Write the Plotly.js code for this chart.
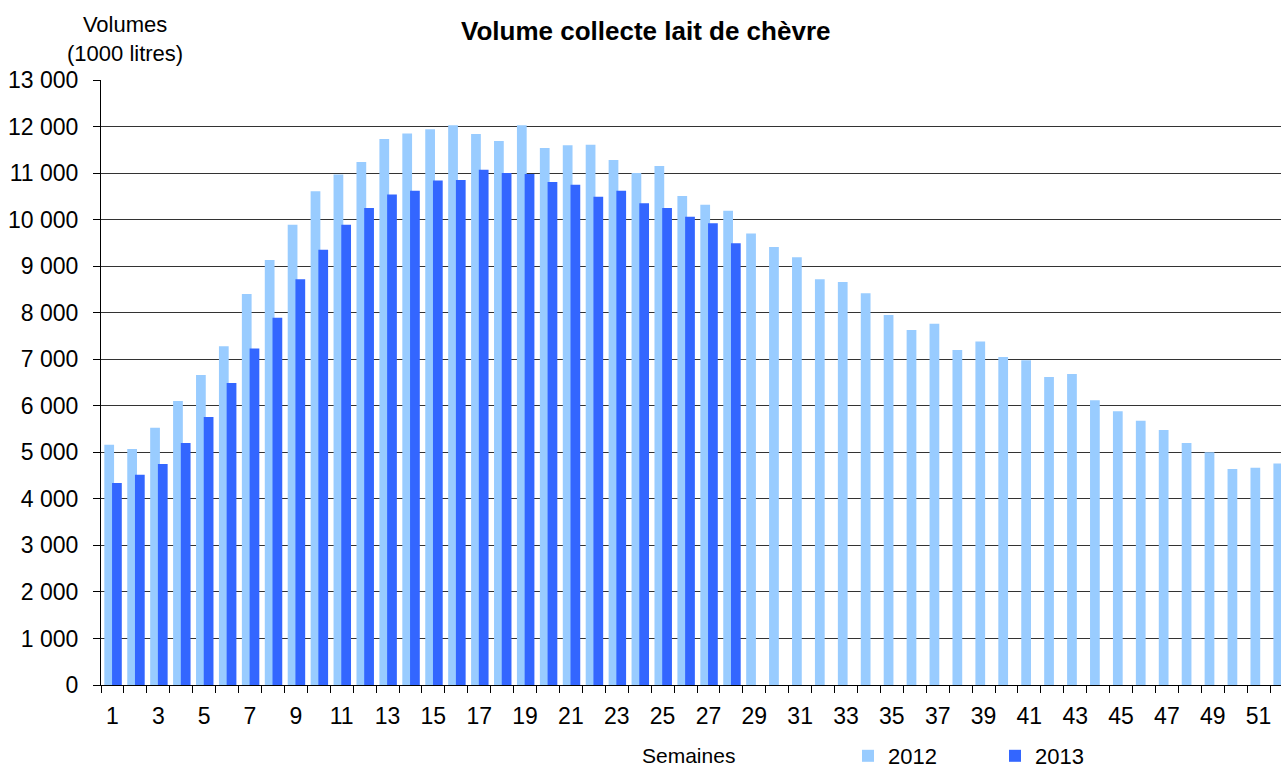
<!DOCTYPE html>
<html>
<head>
<meta charset="utf-8">
<script src="https://cdn.plot.ly/plotly-3.0.1.min.js"></script>
<style>
html, body { margin: 0; padding: 0; overflow: hidden; background: #fff; }
#chart { width: 1300px; height: 769px; }
</style>
</head>
<body>
<div id="chart"></div>
<script>
const weeks = [1,2,3,4,5,6,7,8,9,10,11,12,13,14,15,16,17,18,19,20,21,22,23,24,25,26,
               27,28,29,30,31,32,33,34,35,36,37,38,39,40,41,42,43,44,45,46,47,48,49,50,51,52];
const vol2012 = [5160,5070,5530,6100,6660,7280,8400,9130,9890,10610,10970,11240,11730,11850,
                 11940,12030,11840,11690,12030,11540,11600,11610,11280,11000,11150,10510,10320,
                 10190,9700,9410,9190,8720,8660,8420,7950,7630,7760,7200,7380,7050,6980,6620,
                 6680,6120,5880,5680,5480,5200,5000,4640,4670,4760];
const weeks2013 = [1,2,3,4,5,6,7,8,9,10,11,12,13,14,15,16,17,18,19,20,21,22,23,24,25,26,27,28];
const vol2013 = [4340,4520,4750,5200,5760,6490,7230,7890,8720,9350,9890,10250,10540,10620,
                 10840,10850,11070,11000,10980,10810,10750,10490,10620,10350,10250,10060,9920,9490];
const seriesNames = ['2012', '2013'];
const titleText = 'Volume collecte lait de chèvre';
const yTitleText = 'Volumes<br>(1000 litres)';
const xTitleText = 'Semaines';

const font = 'Liberation Sans, Arial, sans-serif';

const traces = [
  {
    type: 'bar', name: seriesNames[0], x: weeks, y: vol2012,
    offset: -0.355, width: 0.425,
    marker: { color: '#99CCFF', line: { width: 0 } }
  },
  {
    type: 'bar', name: seriesNames[1], x: weeks2013, y: vol2013,
    offset: -0.018, width: 0.425,
    marker: { color: '#3366FF', line: { width: 0 } }
  }
];

const layout = {
  width: 1300, height: 769,
  margin: { l: 101, r: 7, t: 80, b: 84 },
  paper_bgcolor: '#fff', plot_bgcolor: '#fff',
  barmode: 'overlay',
  separators: ', ',
  font: { family: font, color: '#000', size: 22 },
  showlegend: true,
  title: {
    text: '<b>' + titleText + '</b>',
    font: { family: font, size: 26, color: '#000' },
    xref: 'paper', x: 0.457, xanchor: 'center',
    yref: 'container', y: 0.96, yanchor: 'middle'
  },
  xaxis: {
    range: [0.5, 52.5],
    tick0: 1, dtick: 2,
    ticks: '', showgrid: false, zeroline: false,
    showline: true, linecolor: '#000', linewidth: 1,
    ticklabelstandoff: 10,
    tickfont: { family: font, size: 23, color: '#000' },
    minor: { tick0: 0.5, dtick: 1, ticks: 'outside', ticklen: 7, tickcolor: '#000', tickwidth: 1, showgrid: false }
  },
  yaxis: {
    range: [0, 13000], dtick: 1000, tickformat: ',d',
    showgrid: true, gridcolor: '#333', gridwidth: 1,
    zeroline: false,
    showline: true, linecolor: '#000', linewidth: 1,
    ticks: 'outside', ticklen: 7, tickcolor: '#000',
    ticklabelstandoff: 10,
    tickfont: { family: font, size: 23, color: '#000' }
  },
  legend: {
    orientation: 'h',
    xref: 'container', yref: 'container',
    x: 848 / 1300, xanchor: 'left',
    y: 1 - 756 / 769, yanchor: 'middle',
    font: { family: font, size: 22, color: '#000' },
    itemwidth: 30,
    entrywidth: 102,
    bgcolor: 'rgba(0,0,0,0)'
  },
  annotations: [
    {
      text: yTitleText, showarrow: false,
      xref: 'paper', yref: 'paper', x: 0.0201, y: 1.0678,
      xanchor: 'center', yanchor: 'middle',
      font: { family: font, size: 22, color: '#000' }
    },
    {
      text: xTitleText, showarrow: false,
      xref: 'paper', yref: 'paper', x: 0.4925, y: -0.116,
      xanchor: 'center', yanchor: 'middle',
      font: { family: font, size: 21, color: '#000' }
    }
  ]
};

Plotly.newPlot('chart', traces, layout, { staticPlot: true, displayModeBar: false });
</script>
</body>
</html>
